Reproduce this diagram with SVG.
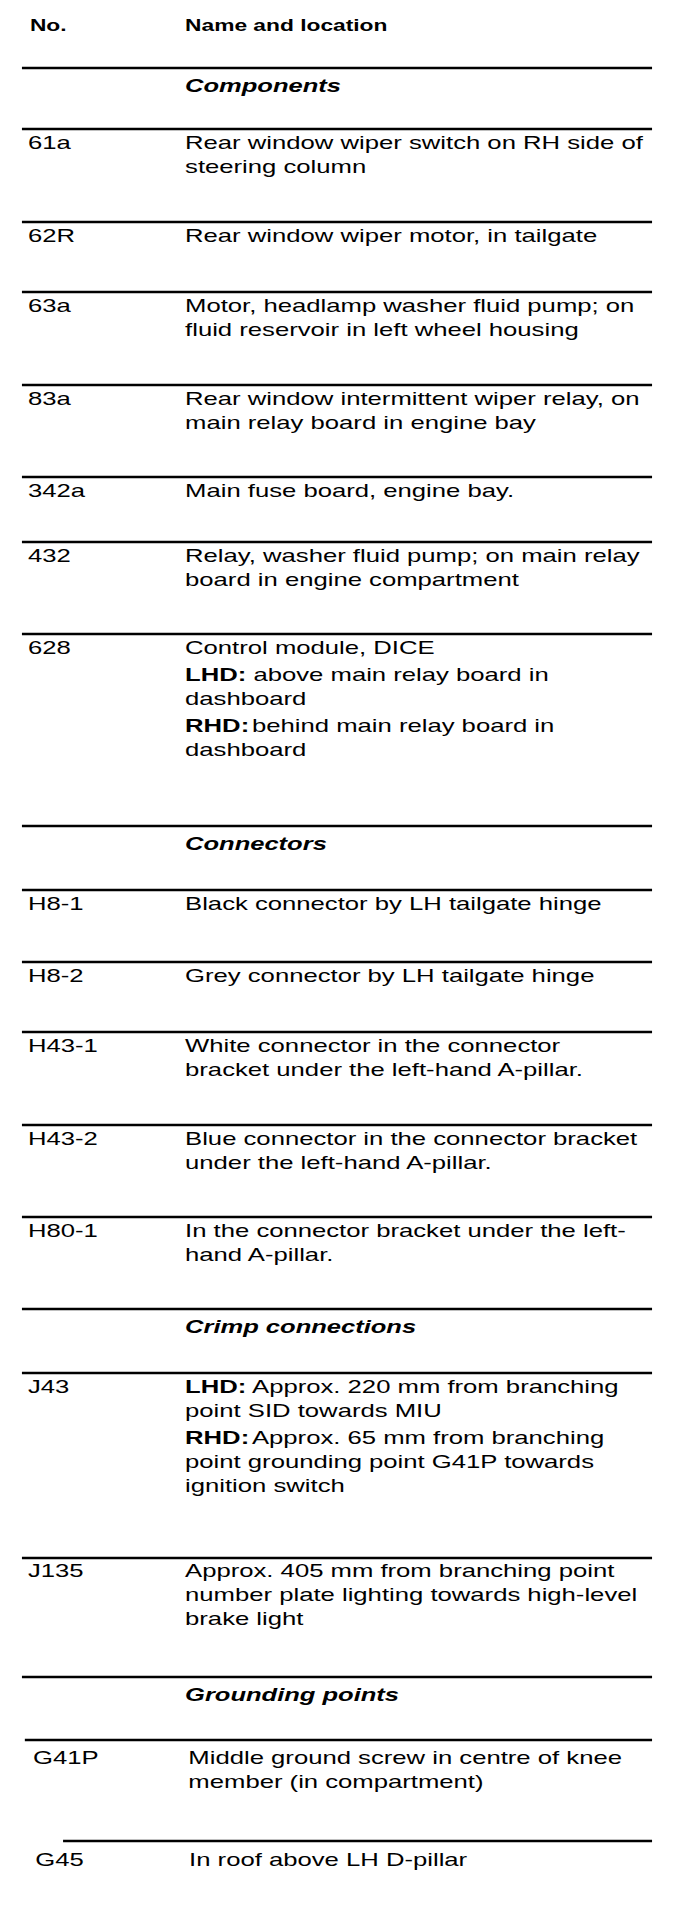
<svg xmlns="http://www.w3.org/2000/svg" width="688" height="1932" viewBox="0 0 688 1932">
<style>
text{font-family:"Liberation Sans",Arial,Helvetica,sans-serif;fill:#000;font-size:18.6px}
.h{font-weight:bold;font-size:16.5px}
.s{font-weight:bold;font-style:italic;font-size:18.5px}
.b{font-weight:bold}
.r{stroke:#000;stroke-width:2.5;fill:none}
</style>
<rect width="688" height="1932" fill="#fff"/>
<g transform="scale(1.38 1)">
<g id="rules">
<line class="r" x1="15.9" y1="68" x2="472.5" y2="68"/>
<line class="r" x1="15.9" y1="129" x2="472.5" y2="129"/>
<line class="r" x1="15.9" y1="222" x2="472.5" y2="222"/>
<line class="r" x1="15.9" y1="292" x2="472.5" y2="292"/>
<line class="r" x1="15.9" y1="385" x2="472.5" y2="385"/>
<line class="r" x1="15.9" y1="477" x2="472.5" y2="477"/>
<line class="r" x1="15.9" y1="542" x2="472.5" y2="542"/>
<line class="r" x1="15.9" y1="634" x2="472.5" y2="634"/>
<line class="r" x1="15.9" y1="826" x2="472.5" y2="826"/>
<line class="r" x1="15.9" y1="890" x2="472.5" y2="890"/>
<line class="r" x1="15.9" y1="962" x2="472.5" y2="962"/>
<line class="r" x1="15.9" y1="1032" x2="472.5" y2="1032"/>
<line class="r" x1="15.9" y1="1125" x2="472.5" y2="1125"/>
<line class="r" x1="15.9" y1="1217" x2="472.5" y2="1217"/>
<line class="r" x1="15.9" y1="1309" x2="472.5" y2="1309"/>
<line class="r" x1="15.9" y1="1373" x2="472.5" y2="1373"/>
<line class="r" x1="15.9" y1="1558" x2="472.5" y2="1558"/>
<line class="r" x1="15.9" y1="1677" x2="472.5" y2="1677"/>
<line class="r" x1="18" y1="1740" x2="472.5" y2="1740"/>
<line class="r" x1="45.7" y1="1841" x2="472.5" y2="1841"/>
</g>
<g id="header">
<text class="h" x="21.7" y="31">No.</text>
<text class="h" x="134.1" y="31">Name and location</text>
</g>
<g id="sec-components"><text class="s" x="134.1" y="92">Components</text></g>
<g id="row-61a">
<text x="20.3" y="149">61a</text>
<text x="134.1" y="149">Rear window wiper switch on RH side of</text>
<text x="134.1" y="173">steering column</text>
</g>
<g id="row-62R">
<text x="20.3" y="242">62R</text>
<text x="134.1" y="242">Rear window wiper motor, in tailgate</text>
</g>
<g id="row-63a">
<text x="20.3" y="312">63a</text>
<text x="134.1" y="312">Motor, headlamp washer fluid pump; on</text>
<text x="134.1" y="336">fluid reservoir in left wheel housing</text>
</g>
<g id="row-83a">
<text x="20.3" y="405">83a</text>
<text x="134.1" y="405">Rear window intermittent wiper relay, on</text>
<text x="134.1" y="429">main relay board in engine bay</text>
</g>
<g id="row-342a">
<text x="20.3" y="497">342a</text>
<text x="134.1" y="497">Main fuse board, engine bay.</text>
</g>
<g id="row-432">
<text x="20.3" y="562">432</text>
<text x="134.1" y="562">Relay, washer fluid pump; on main relay</text>
<text x="134.1" y="586">board in engine compartment</text>
</g>
<g id="row-628">
<text x="20.3" y="654">628</text>
<text x="134.1" y="654">Control module, DICE</text>
<text x="134.1" y="681"><tspan class="b">LHD:</tspan> above main relay board in</text>
<text x="134.1" y="705">dashboard</text>
<text x="134.1" y="732"><tspan class="b">RHD:</tspan><tspan dx="2">behind main relay board in</tspan></text>
<text x="134.1" y="756">dashboard</text>
</g>
<g id="sec-connectors"><text class="s" x="134.1" y="850">Connectors</text></g>
<g id="row-H8-1">
<text x="20.3" y="910">H8-1</text>
<text x="134.1" y="910">Black connector by LH tailgate hinge</text>
</g>
<g id="row-H8-2">
<text x="20.3" y="982">H8-2</text>
<text x="134.1" y="982">Grey connector by LH tailgate hinge</text>
</g>
<g id="row-H43-1">
<text x="20.3" y="1052">H43-1</text>
<text x="134.1" y="1052">White connector in the connector</text>
<text x="134.1" y="1076">bracket under the left-hand A-pillar.</text>
</g>
<g id="row-H43-2">
<text x="20.3" y="1145">H43-2</text>
<text x="134.1" y="1145">Blue connector in the connector bracket</text>
<text x="134.1" y="1169">under the left-hand A-pillar.</text>
</g>
<g id="row-H80-1">
<text x="20.3" y="1237">H80-1</text>
<text x="134.1" y="1237">In the connector bracket under the left-</text>
<text x="134.1" y="1261">hand A-pillar.</text>
</g>
<g id="sec-crimp"><text class="s" x="134.1" y="1333">Crimp connections</text></g>
<g id="row-J43">
<text x="20.3" y="1393">J43</text>
<text x="134.1" y="1393"><tspan class="b">LHD:</tspan> Approx. 220 mm from branching</text>
<text x="134.1" y="1417">point SID towards MIU</text>
<text x="134.1" y="1444"><tspan class="b">RHD:</tspan><tspan dx="2">Approx. 65 mm from branching</tspan></text>
<text x="134.1" y="1468">point grounding point G41P towards</text>
<text x="134.1" y="1492">ignition switch</text>
</g>
<g id="row-J135">
<text x="20.3" y="1577">J135</text>
<text x="134.1" y="1577">Approx. 405 mm from branching point</text>
<text x="134.1" y="1601">number plate lighting towards high-level</text>
<text x="134.1" y="1625">brake light</text>
</g>
<g id="sec-grounding"><text class="s" x="134.1" y="1701">Grounding points</text></g>
<g id="row-G41P">
<text x="24" y="1764">G41P</text>
<text x="136.5" y="1764">Middle ground screw in centre of knee</text>
<text x="136.5" y="1788">member (in compartment)</text>
</g>
<g id="row-G45">
<text x="25.5" y="1866">G45</text>
<text x="137" y="1866">In roof above LH D-pillar</text>
</g>
</g>
</svg>
